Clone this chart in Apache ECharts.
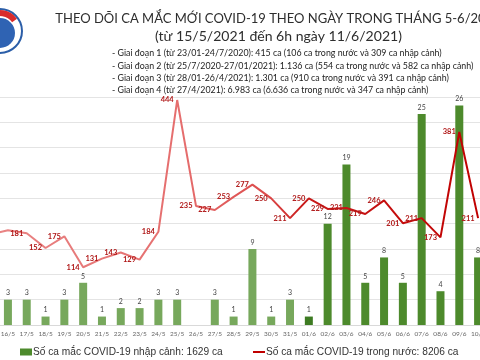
<!DOCTYPE html>
<html><head><meta charset="utf-8">
<script src="https://cdn.jsdelivr.net/npm/echarts@6/dist/echarts.min.js"></script>
<style>html,body{margin:0;padding:0;overflow:hidden;background:#fff;width:480px;height:360px;position:relative}
#c{position:absolute;left:-21px;top:0;width:510px;height:360px}</style>
</head><body><div id="c"></div>
<script>
const categories = ['15/5','16/5','17/5','18/5','19/5','20/5','21/5','22/5','23/5','24/5','25/5','26/5','27/5','28/5','29/5','30/5','31/5','01/6','02/6','03/6','04/6','05/6','06/6','07/6','08/6','09/6','10/6'];
const importedCases = [null,3,3,1,3,5,1,2,2,3,3,null,3,1,9,1,3,1,12,19,5,8,5,25,4,26,8];
const domesticCases = [178,187,181,152,175,114,131,143,129,184,444,235,227,253,277,250,211,250,229,231,219,246,201,211,173,381,211];
const titleLine1 = 'THEO DÕI CA MẮC MỚI COVID-19 THEO NGÀY TRONG THÁNG 5-6/2021';
const titleLine2 = '(từ 15/5/2021 đến 6h ngày 11/6/2021)';
const stageNotes = [
  '- Giai đoạn 1 (từ 23/01-24/7/2020): 415 ca (106 ca trong nước và 309 ca nhập cảnh)',
  '- Giai đoạn 2 (từ 25/7/2020-27/01/2021): 1.136 ca (554 ca trong nước và 582 ca nhập cảnh)',
  '- Giai đoạn 3 (từ 28/01-26/4/2021): 1.301 ca (910 ca trong nước và 391 ca nhập cảnh)',
  '- Giai đoạn 4 (từ 27/4/2021): 6.983 ca (6.636 ca trong nước và 347 ca nhập cảnh)'
];
const seriesNames = ['Số ca mắc COVID-19 nhập cảnh: 1629 ca', 'Số ca mắc COVID-19 trong nước: 8206 ca'];

// styles (kept apart from data)
const barColors = categories.map((c, i) => i < 17 ? '#77a85c' : (i === 17 ? '#3d7b22' : '#4d8a2c'));
const hiddenLineLabels = [0, 1]; // labels cut off at the left edge in the reference
const titleFont = 'Lato, "Open Sans", sans-serif';
const legendFont = '"Liberation Sans", Arial, sans-serif';
const OX = 21; // container is shifted 21px left of the page

function fitSize(text, family, weight, width) {
  const ctx = document.createElement('canvas').getContext('2d');
  ctx.font = weight + ' 100px ' + family;
  return 100 * width / ctx.measureText(text).width;
}
const t1Size = fitSize(titleLine1, titleFont, 'normal', 446);
const t2Size = fitSize(titleLine2, titleFont, 'normal', 247);
const noteSize = fitSize(stageNotes[0], titleFont, 'normal', 330);
const legSize = fitSize(seriesNames[0], legendFont, 'normal', 190);

const chart = echarts.init(document.getElementById('c'), null, {renderer: 'canvas'});

const titleY1 = 15, titleY2 = 33;
const noteYs = [49, 61.5, 73.5, 85.5];

chart.setOption({
  backgroundColor: '#ffffff',
  animation: false,
  textStyle: {fontFamily: titleFont},
  title: [
    {text: titleLine1, left: 273 + OX, top: titleY1 - t1Size * 0.6, textAlign: 'center',
     textStyle: {fontSize: t1Size, fontWeight: 'normal', color: '#2e2e2e', fontFamily: titleFont}},
    {text: titleLine2, left: 273.5 + OX, top: titleY2 - t2Size * 0.6, textAlign: 'center',
     textStyle: {fontSize: t2Size, fontWeight: 'normal', color: '#2e2e2e', fontFamily: titleFont}}
  ].concat(stageNotes.map((t, i) => ({
    text: t, left: 107 + OX, top: noteYs[i] - noteSize * 0.6,
    textStyle: {fontSize: noteSize, fontWeight: 'normal', color: '#222', fontFamily: titleFont}
  }))),
  graphic: [
    {type: 'circle', shape: {cx: OX, cy: 31, r: 22}, style: {fill: '#ffffff', stroke: '#2b5ea8', lineWidth: 2}},
    {type: 'circle', shape: {cx: OX, cy: 33, r: 15}, style: {fill: '#2f63b3'}},
    {type: 'sector', shape: {cx: OX, cy: 31, r: 21, r0: 15, startAngle: -Math.PI * 0.95, endAngle: -Math.PI * 0.2}, style: {fill: '#d92b2b'}}
  ],
  legend: [
    {data: [{name: seriesNames[0], icon: 'rect', itemStyle: {color: '#4d8a2c'}}],
     left: 15 + OX, top: 350 - 8, itemWidth: 12, itemHeight: 7,
     textStyle: {fontSize: legSize, color: '#333', fontFamily: legendFont, padding: [0,0,0,-4]}},
    {data: [{name: seriesNames[1], icon: 'rect', itemStyle: {color: '#c00000'}}],
     left: 248 + OX, top: 350 - 8, itemWidth: 12, itemHeight: 2,
     textStyle: {fontSize: legSize, color: '#333', fontFamily: legendFont, padding: [0,0,0,-4]}}
  ],
  grid: {left: 0.5, right: 1.5, top: 97, bottom: 35, containLabel: false},
  xAxis: {
    type: 'category', data: categories, boundaryGap: true,
    axisTick: {show: false},
    axisLine: {lineStyle: {color: '#d9d9d9'}},
    axisLabel: {fontSize: 6.5, color: '#666', margin: 5, interval: 0}
  },
  yAxis: [
    {type: 'value', min: 0, max: 27, interval: 3, axisLabel: {show: false}, axisLine: {show: false}, axisTick: {show: false},
     splitLine: {lineStyle: {color: '#e4e4e4', width: 1}}},
    {type: 'value', min: 0, max: 450, interval: 50, axisLabel: {show: false}, axisLine: {show: false}, axisTick: {show: false},
     splitLine: {show: false}}
  ],
  series: [
    {name: seriesNames[0], type: 'bar', yAxisIndex: 0, barWidth: 8,
     data: importedCases.map((v, i) => ({value: v, itemStyle: {color: barColors[i]}})),
     label: {show: true, position: 'top', distance: 3, fontSize: 7, color: '#444'}},
    {name: seriesNames[1], type: 'line', yAxisIndex: 1, symbol: 'circle', symbolSize: 1, showSymbol: true, z: 5,
     itemStyle: {color: 'rgba(0,0,0,0)'},
     data: domesticCases.map((v, i) => hiddenLineLabels.includes(i) ? {value: v, label: {show: false}} : v),
     lineStyle: {width: 2, color: new echarts.graphic.LinearGradient(0, 0, 1, 0, [
       {offset: 0, color: '#e98585'}, {offset: 0.4, color: '#e56d6d'},
       {offset: 0.57, color: '#dc4a4a'}, {offset: 0.64, color: '#c91a1a'}, {offset: 1, color: '#c00000'}])},
     label: {show: true, position: 'left', distance: 3, fontSize: 7.5, fontWeight: 'bold', color: '#b01818'},
     labelLayout: {hideOverlap: false}}
  ]
});
</script>
</body></html>
